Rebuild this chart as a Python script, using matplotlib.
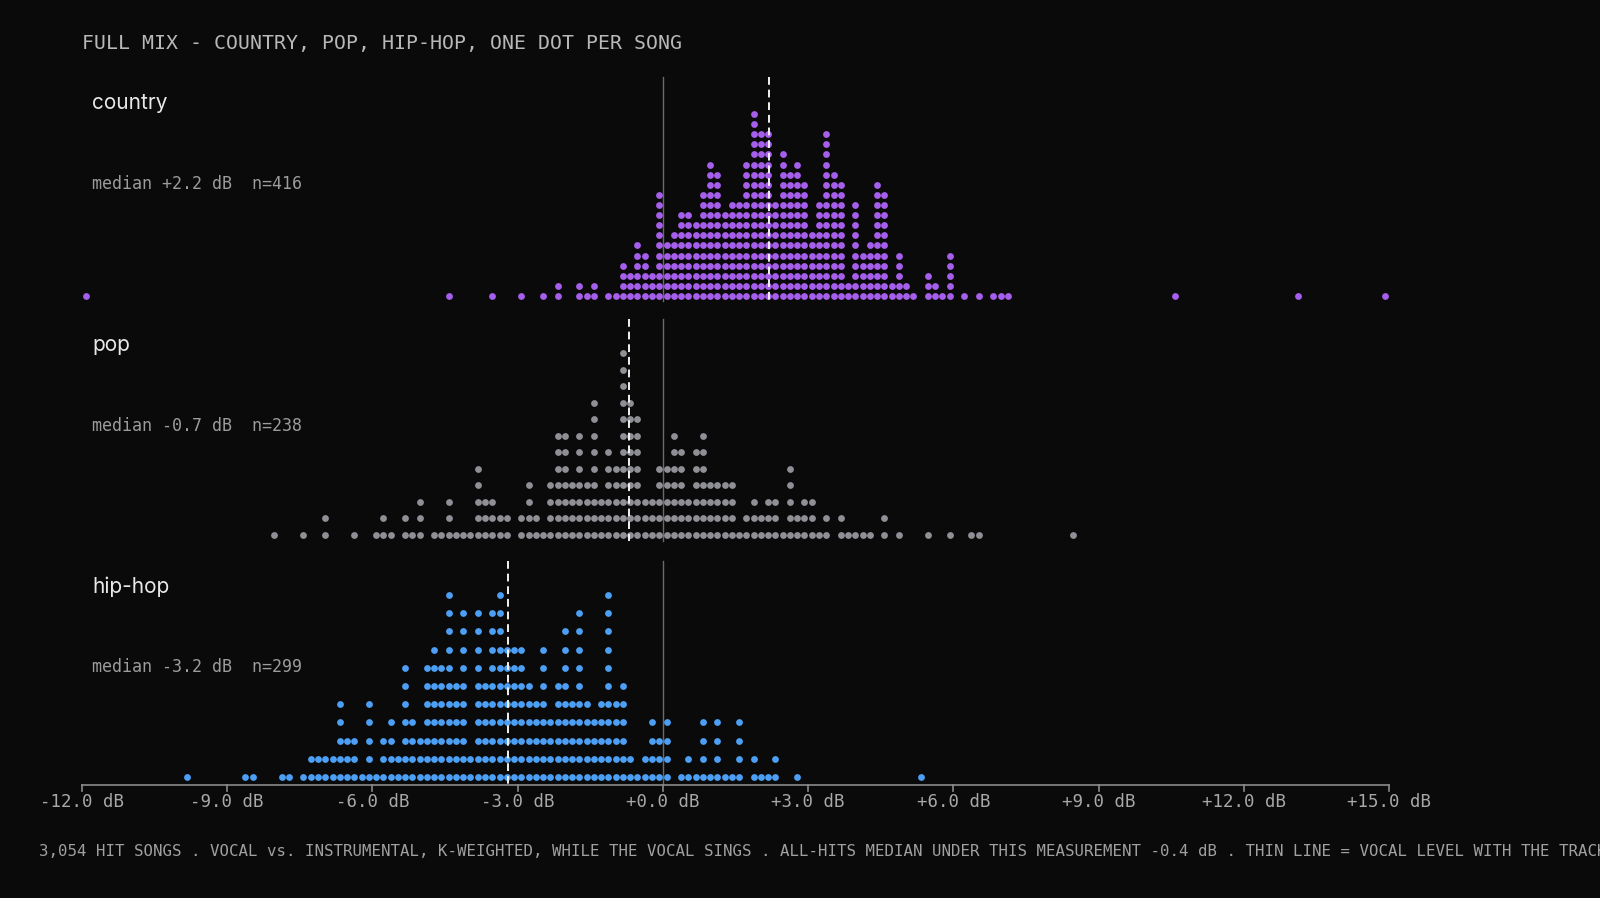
import numpy as np
import matplotlib
matplotlib.use("Agg")
import matplotlib.pyplot as plt

# ---------------- data (bin index k, bin width 0.15 dB, center = k*0.15 - 0.075) -------------
BIN = 0.15
genres = ["country", "pop", "hip-hop"]
medians = [2.2, -0.7, -3.2]
ns = [416, 238, 299]

country_start = -9
country_counts = [2, 0, 1, 1, 4, 3, 6, 5, 3, 11,
                  6, 7, 9, 9, 8, 11, 14, 13, 9, 10, 10, 14, 19, 17, 17, 10,
                  15, 13, 14, 12, 7, 10, 17, 13, 12, 2, 10, 5, 6, 12, 11, 2, 5, 2, 1, 0,
                  3, 2, 1, 5, 0, 1, 0, 1, 0, 1, 1, 1]
country_sparse = [-79, -29, -23, -19, -16, -14, -14, -11, -11, -10, 71, 88, 100]

pop_start = -25
pop_counts = [5, 3, 3, 2, 2, 0, 2, 4, 2, 1, 4, 7, 7, 4, 7, 4, 9, 3, 6, 5, 12, 9, 8, 3, 3, 5, 5, 7,
              6, 3, 6, 7, 4, 4, 4, 4, 1, 2, 3, 2, 3, 3, 1, 5, 2, 3, 3, 1, 2, 0, 2, 1, 1, 1, 1, 0,
              2, 0, 1]
pop_sparse = [-53, -49, -46, -46, -42, -39, -38, -38, -37, -35, -35, -34, -33, -33, -33,
              -31, -30, -29, -29, -29, -28, -27, -26, 37, 40, 43, 44, 57]

hiphop_start = -49
hiphop_counts = [1, 2, 2, 2, 2, 5, 3, 3, 1, 5, 1, 3,
                 4, 2, 7, 4, 3, 7, 8, 7, 11, 6, 10, 2, 10, 6, 10, 11, 8, 8, 8, 6, 5, 8, 4, 6,
                 9, 5, 10, 5, 4, 5, 11,
                 5, 6, 2, 1, 2, 4, 3, 4, 0, 1, 2, 1, 4, 1, 4, 1, 1, 4, 0, 2, 1, 1, 2, 0, 0, 1]
hiphop_sparse = [-65, -57, -56, -52, -51, 36]

starts = [country_start, pop_start, hiphop_start]
counts = [country_counts, pop_counts, hiphop_counts]
sparse = [country_sparse, pop_sparse, hiphop_sparse]
colors = ["#a65fec", "#8f8f96", "#4c9ff4"]

xticks = [-12, -9, -6, -3, 0, 3, 6, 9, 12, 15]

# ---------------- layout ----------------
W, H = 1600, 898
BG = "#0a0a0a"
X0, X1 = 82, 1389          # pixel positions of -12 and +15 dB
ppd = (X1 - X0) / 27.0
def db(px):
    return -12 + (px - X0) / ppd

fig = plt.figure(figsize=(16, 8.98), dpi=100, facecolor=BG)
ax = fig.add_axes([0, 0, 1, 1])
ax.set_facecolor(BG)
ax.set_xlim(db(0), db(W))
ax.set_ylim(H, 0)
ax.axis("off")

mono = "DejaVu Sans Mono"
panel_top = [77, 319, 561]
panel_bot = [301, 541, 784]
row0 = [296, 535, 777]
label_y = [103, 345, 587]
med_y = [184, 426, 667]
STACK_H = 182

for g in range(3):
    ks = list(np.arange(starts[g], starts[g] + len(counts[g])).repeat(counts[g])) + list(sparse[g])
    values = np.array(ks) * BIN - BIN / 2
    kb = np.round((values + BIN / 2) / BIN).astype(int)
    colmax = np.bincount(kb - kb.min()).max()
    step = STACK_H / (colmax - 1)
    xs, ys = [], []
    seen = {}
    for v, k in sorted(zip(values, kb)):
        i = seen.get(k, 0)
        seen[k] = i + 1
        xs.append(k * BIN - BIN / 2)
        ys.append(row0[g] - i * step)
    ax.scatter(xs, ys, s=24, color=colors[g], linewidths=0, zorder=3)
    ax.plot([0, 0], [panel_top[g], panel_bot[g]], color="#6a6a6a", lw=1.0, zorder=2)
    ax.plot([medians[g]] * 2, [panel_top[g], panel_bot[g]], color="#f2f2f2", lw=1.4,
            ls=(0, (4, 2.5)), zorder=4)
    ax.text(db(92), label_y[g], genres[g], color="#e8e8e8", fontsize=15, family="Inter",
            va="center", ha="left")
    ax.text(db(92), med_y[g], f"median {medians[g]:+.1f} dB  n={ns[g]}", color="#9c9c9c",
            fontsize=12, family=mono, va="center", ha="left")

# axis
ax.plot([-12, 15], [785, 785], color="#8a8a8a", lw=1.2)
for t in xticks:
    ax.plot([t, t], [785, 791], color="#8a8a8a", lw=1.2)
    ax.text(t, 802, f"{t:+.1f} dB" if t != 0 else "+0.0 dB", color="#a8a8a8",
            fontsize=12.5, family=mono, ha="center", va="center")

ax.text(db(82), 44, "FULL MIX - COUNTRY, POP, HIP-HOP, ONE DOT PER SONG", color="#b8b8b8",
        fontsize=14.3, family=mono, ha="left", va="center")
ax.text(db(39), 851, "3,054 HIT SONGS . VOCAL vs. INSTRUMENTAL, K-WEIGHTED, WHILE THE VOCAL SINGS . "
        "ALL-HITS MEDIAN UNDER THIS MEASUREMENT -0.4 dB . THIN LINE = VOCAL LEVEL WITH THE TRACK",
        color="#a0a0a0", fontsize=11.3, family=mono, ha="left", va="center")

fig.savefig("out.png", dpi=100, facecolor=BG)
